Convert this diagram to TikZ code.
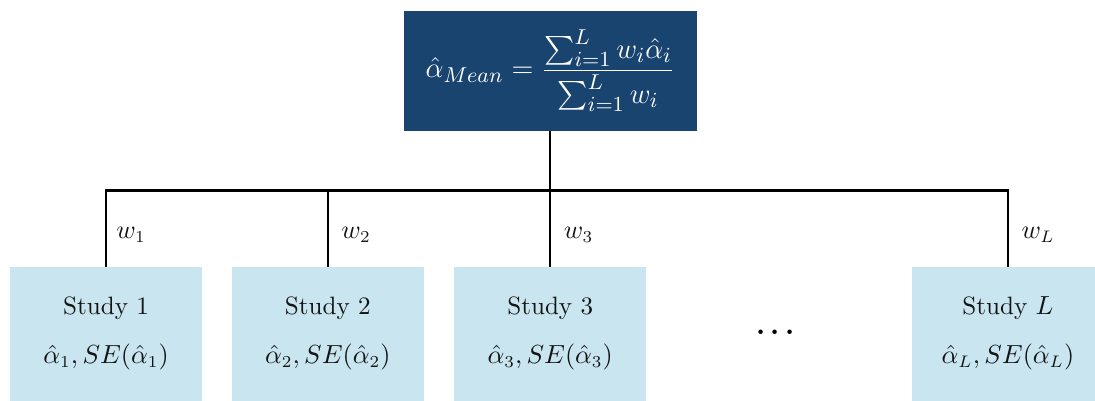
\documentclass[tikz,border=0pt]{standalone}
\usepackage{amsmath}
\definecolor{manavy}{RGB}{24,68,111}
\definecolor{malight}{RGB}{200,229,240}
\definecolor{matext}{RGB}{20,20,20}

\begin{document}
\begin{tikzpicture}[
  x=1cm,
  y=1cm,
  every node/.style={inner sep=0pt, outer sep=0pt},
  meanbox/.style={fill=manavy, text=white, minimum width=4.31cm, minimum height=1.76cm, font=\fontsize{12.4}{15}\selectfont},
  studybox/.style={fill=malight, text=matext, minimum width=2.82cm, minimum height=1.97cm, align=center, font=\fontsize{10.5}{12.6}\selectfont},
  wlabel/.style={text=matext, anchor=west, font=\fontsize{10.5}{12.6}\selectfont},
  flow/.style={draw=black, line width=0.9pt}
]

  \path[use as bounding box] (0,0) rectangle (16.10,5.89);
  \clip (0,0) rectangle (16.10,5.89);

  % Mean estimate
  \node[meanbox] (mean) at (8.09,4.85)
    {$\hat{\alpha}_{Mean} = \dfrac{\sum_{i=1}^{L} w_i\hat{\alpha}_i}{\sum_{i=1}^{L} w_i}$};

  % Studies
  \node[studybox] (s1) at (1.56,0.985) {Study 1\\[8pt]$\hat{\alpha}_1, SE(\hat{\alpha}_1)$};
  \node[studybox] (s2) at (4.82,0.985) {Study 2\\[8pt]$\hat{\alpha}_2, SE(\hat{\alpha}_2)$};
  \node[studybox] (s3) at (8.09,0.985) {Study 3\\[8pt]$\hat{\alpha}_3, SE(\hat{\alpha}_3)$};
  \node[studybox] (sL) at (14.82,0.985) {Study $L$\\[8pt]$\hat{\alpha}_L, SE(\hat{\alpha}_L)$};
  \node (dots) at (11.44,1.00) {\large$\boldsymbol{\cdots}$};

  % Connectors
  \coordinate (bar) at (8.09,3.09);
  \draw[flow] (mean.south) -- (bar);
  \draw[flow] (bar) -| (s1.north);
  \draw[flow] (bar) -| (s2.north);
  \draw[flow] (bar) -- (s3.north);
  \draw[flow] (bar) -| (sL.north);

  % Weights
  \node[wlabel] (w1) at (1.71,2.43) {$w_1$};
  \node[wlabel] (w2) at (5.02,2.43) {$w_2$};
  \node[wlabel] (w3) at (8.29,2.43) {$w_3$};
  \node[wlabel] (wL) at (15.02,2.43) {$w_L$};

\end{tikzpicture}
\end{document}
